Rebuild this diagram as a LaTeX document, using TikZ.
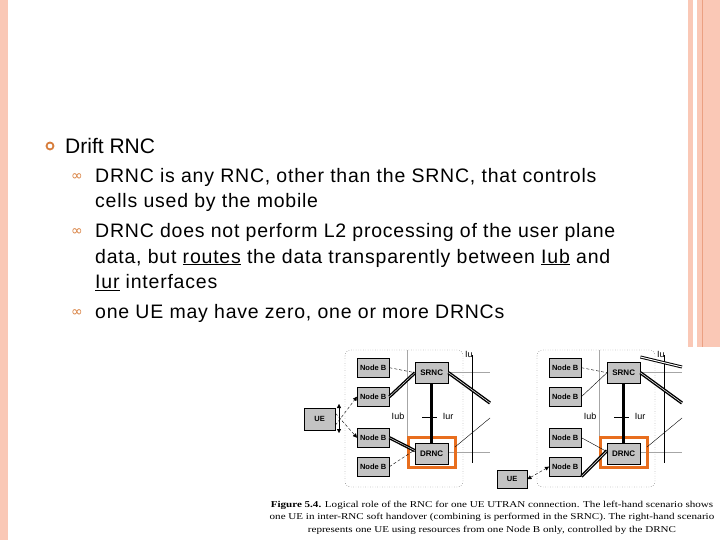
\documentclass[tikz,border=0pt]{standalone}
\usepackage{fontspec}
\setmainfont{Liberation Sans}
\newfontfamily\serf{Liberation Serif}
\newfontfamily\dvs{DejaVu Sans}
\newfontfamily\spc[LetterSpace=4]{Liberation Sans}
\usetikzlibrary{arrows.meta}
\definecolor{pinkb}{RGB}{250,200,182}
\definecolor{pinkd}{RGB}{235,160,130}
\definecolor{orng}{RGB}{232,110,30}
\definecolor{bul}{RGB}{215,125,60}
\definecolor{boxg}{RGB}{195,195,195}
\begin{document}
\begin{tikzpicture}[x=1pt,y=-1pt,
  nb/.style={draw=black,fill=boxg,minimum width=32pt,minimum height=19pt,inner sep=0pt,font=\fontsize{7.5}{8}\selectfont\bfseries,anchor=north west},
  rnc/.style={draw=black,fill=boxg,minimum width=33pt,minimum height=21pt,inner sep=0pt,font=\fontsize{8}{8}\selectfont\bfseries,anchor=north west},
  lbl/.style={font=\fontsize{9}{9}\selectfont,inner sep=0pt},
  txt/.style={anchor=west,inner sep=0pt,font=\spc\fontsize{19.5}{20}\selectfont},
  sb/.style={anchor=west,inner sep=0pt,text=bul,font=\dvs\fontsize{14}{14}\selectfont},
  grl/.style={draw=gray!70,line width=0.6pt}]
\useasboundingbox (0,0) rectangle (720,540);
\fill[pinkb] (0,0) rectangle (8,540);
\fill[pinkb] (688,0) rectangle (693,347);
\fill[pinkb] (697,0) rectangle (720,347);
\draw[pinkd,line width=0.6pt] (702,0) -- (702,347);
% text
\node[circle,draw=bul,line width=1.8pt,minimum size=7pt,inner sep=0pt] (b0) at (50,146) {};
\node[txt,font=\fontsize{21}{22}\selectfont] (t0) at (65,146) {Drift RNC};
\node[sb] (s1) at (71,177) {∞};
\node[txt] (t1) at (95,177) {DRNC is any RNC, other than the SRNC, that controls};
\node[txt] (t1b) at (95,202) {cells used by the mobile};
\node[sb] (s2) at (71,232) {∞};
\node[txt] (t2) at (95,232) {DRNC does not perform L2 processing of the user plane};
\node[txt] (t2b) at (95,258) {data, but \underline{routes} the data transparently between \underline{Iub} and};
\node[txt] (t2c) at (95,283) {\underline{Iur} interfaces};
\node[sb] (s3) at (71,313) {∞};
\node[txt] (t3) at (95,313) {one UE may have zero, one or more DRNCs};
% diagrams
\foreach \o/\s in {0/L,192/R}{
 \begin{scope}[xshift=\o pt]
 \draw[dotted,rounded corners=6pt] (345,350) rectangle (463,487);
 \draw[grl] (407,350) -- (407,452);
 \draw[grl] (415,372) -- (490,372);
 \draw[grl] (415,452) -- (490,452);
 \draw[line width=1pt] (472,355) -- (472,463);
 \node[lbl,anchor=north west] (iu\s) at (465,351) {Iu};
 \node[nb] (n1\s) at (357,358) {Node B};
 \node[nb] (n2\s) at (357,387) {Node B};
 \node[nb] (n3\s) at (357,428) {Node B};
 \node[nb] (n4\s) at (357,457) {Node B};
 \node[rnc] (sr\s) at (415,362) {SRNC};
 \node[rnc] (dr\s) at (415,443) {DRNC};
 \draw[orng,line width=3pt] (408.5,437.5) rectangle (455.5,467);
 \draw[line width=3pt] (sr\s.south) -- (dr\s.north);
 \draw[line width=0.8pt] (422,417) -- (437,417);
 \node[lbl] (iub\s) at (398,416) {Iub};
 \node[lbl] (iur\s) at (448,416) {Iur};
 \coordinate (e1\s) at (490,403);
 \coordinate (e2\s) at (490,418);
 \draw[line width=1.4pt,double=white,double distance=0.5pt] (sr\s.east) -- (e1\s);
 \draw[line width=0.4pt] (455,447) -- (e2\s);
 \end{scope}}
% left connections
\draw[densely dashed,line width=0.4pt] (n1L.east) -- (srL.west);
\draw[line width=1.4pt,double=white,double distance=0.4pt] (n2L.east) -- (srL.west);
\draw[line width=1.4pt,double=white,double distance=0.4pt] (n3L.east) -- ([yshift=3pt]drL.west);
\draw[densely dashed,line width=0.4pt] (n4L.east) -- ([yshift=4pt]drL.west);
\node[nb,minimum width=31pt,minimum height=22pt] (ueL) at (304,408) {UE};
\draw[-{Triangle[length=4pt,width=4pt]},densely dashed,line width=0.4pt] ([yshift=-6pt]ueL.east) -- (n2L.west);
\draw[-{Triangle[length=4pt,width=4pt]},densely dashed,line width=0.4pt] ([yshift=6pt]ueL.east) -- (n3L.west);
\draw[{Triangle[length=4pt,width=4pt]}-{Triangle[length=4pt,width=4pt]},line width=0.4pt] (339,404) -- (339,433);
% right connections
\draw[densely dashed,line width=0.4pt] (n1R.east) -- (srR.west);
\draw[line width=0.4pt] (n2R.east) -- (srR.west);
\draw[line width=0.4pt] (n3R.east) -- ([yshift=2pt]drR.west);
\draw[line width=1.4pt,double=white,double distance=0.4pt] (n4R.south east) -- ([yshift=3pt]drR.west);
\coordinate (ce) at (682,367);
\draw[line width=1pt,double=white,double distance=1pt] ([yshift=5pt]srR.north east) -- (ce);
\node[nb,minimum width=30pt,minimum height=18pt] (ueR) at (497,470) {UE};
\draw[{Triangle[length=4pt,width=4pt]}-{Triangle[length=4pt,width=4pt]},densely dashed,line width=0.4pt] (ueR.east) -- (n4R.west);
% caption
\node[anchor=north,align=center,inner sep=0pt,font=\serf\fontsize{9}{12.3}\selectfont] (cap) at (492,501)
 {\scalebox{1.23}[1]{\textbf{Figure 5.4.} Logical role of the RNC for one UE UTRAN connection. The left-hand scenario shows}\\
 \scalebox{1.23}[1]{one UE in inter-RNC soft handover (combining is performed in the SRNC). The right-hand scenario}\\
 \scalebox{1.23}[1]{represents one UE using resources from one Node B only, controlled by the DRNC}};
\end{tikzpicture}
\end{document}
